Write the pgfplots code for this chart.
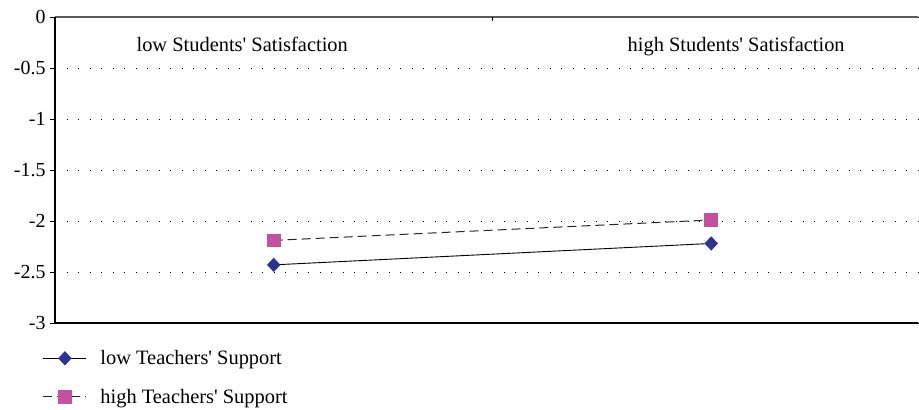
\documentclass[border=0pt]{standalone}
\usepackage{pgfplots}
\pgfplotsset{compat=1.18}
\usepackage{fontspec}
\setmainfont{Liberation Serif}[Ligatures=TeXOff]
\definecolor{navy}{RGB}{46,49,146}
\definecolor{pinkm}{RGB}{196,81,160}
\definecolor{topgray}{RGB}{90,90,90}
\begin{document}
\begin{tikzpicture}
\begin{axis}[
  name=ax,
  scale only axis,
  width=863bp, height=306bp,
  xmin=-0.5, xmax=1.4726,
  ymin=-3, ymax=0,
  xtick=\empty,
  ytick={-3,-2.5,-2,-1.5,-1,-0.5,0},
  yticklabels={-3,-2.5,-2,-1.5,-1,-0.5,0},
  yticklabel style={font=\fontsize{20}{22}\selectfont, xshift=-1bp},
  tick pos=left,
  tick align=outside,
  major tick length=5bp,
  tick style={black, line width=0.9bp},
  axis line style={draw=none},
  ymajorgrids,
  grid style={black, line width=0.9bp, dash pattern=on 0.9bp off 10.6bp},
  clip=false,
  legend style={draw=none, fill=none, at={(-0.0177,-0.076)}, anchor=north west,
    font=\fontsize{20.5}{22}\selectfont, row sep=19bp,
    legend cell align=left},
  legend image code/.code={
    \draw[mark repeat=2,mark phase=2,#1] plot coordinates {(0bp,0bp)(21.5bp,0bp)(43bp,0bp)};
    \path[draw=none, fill=none] (0bp,0bp) rectangle (55bp,0.1bp);
  },
]
\draw[black, line width=1.2bp] (rel axis cs:0,0) -- (rel axis cs:1,0);
\draw[topgray, line width=1.6bp] (rel axis cs:0,1) -- (rel axis cs:1,1);
\draw[black, line width=1.1bp] (rel axis cs:0,0) -- (rel axis cs:0,1);
\draw[black, line width=0.9bp] (axis cs:0.5,0) -- ([yshift=-4bp]axis cs:0.5,0);
\node[font=\fontsize{20.5}{22}\selectfont, anchor=base] at (axis cs:-0.072,-0.343) {low Students' Satisfaction};
\node[font=\fontsize{20.5}{22}\selectfont, anchor=base] at (axis cs:1.057,-0.343) {high Students' Satisfaction};
\addplot[black, line width=0.9bp, mark=diamond*, mark size=6.5bp,
  mark options={solid, fill=navy, draw=navy, xscale=1.25}]
  coordinates {(0,-2.43) (1,-2.22)};
\addlegendentry{low Teachers' Support}
\addplot[black!85, line width=1bp, dash pattern=on 9bp off 5bp, mark=square*, mark size=6.3bp,
  mark options={solid, fill=pinkm, draw=pinkm}]
  coordinates {(0,-2.19) (1,-1.99)};
\addlegendentry{high Teachers' Support}
\end{axis}
\path[use as bounding box] ([shift={(-55bp,-87bp)}]ax.south west) rectangle ([shift={(1bp,17bp)}]ax.north east);
\end{tikzpicture}
\end{document}
